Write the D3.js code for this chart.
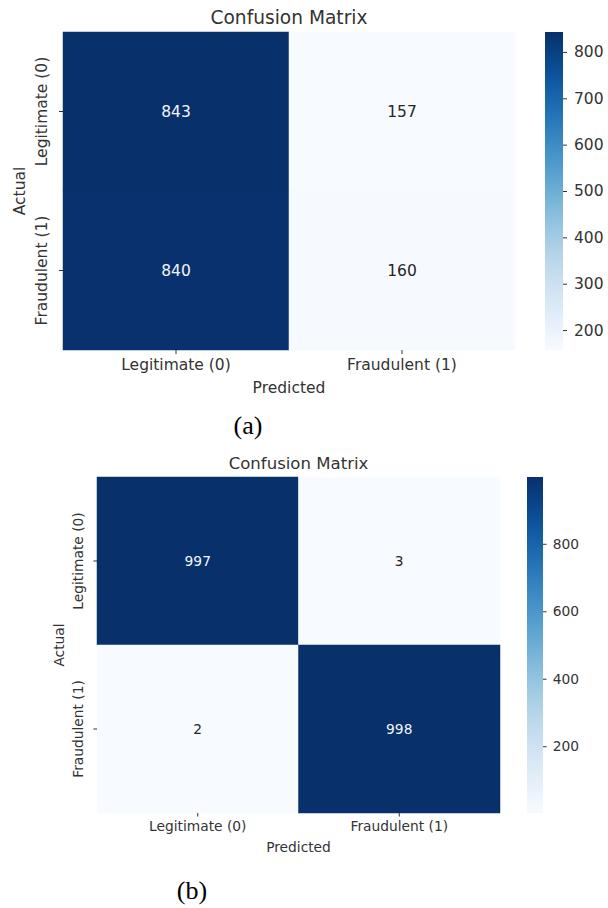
<!DOCTYPE html>
<html>
<head>
<meta charset="utf-8">
<script src="https://cdn.jsdelivr.net/npm/d3@7"></script>
<style>
  body { margin: 0; background: #fff; }
  svg { display: block; }
</style>
</head>
<body>
<svg id="chart" width="608" height="908"></svg>
<script>
// data
var classLabels = ["Legitimate (0)", "Fraudulent (1)"];
var matrixA = [[843, 157], [840, 160]];
var matrixB = [[997, 3], [2, 998]];
var cbTicksA = [200, 300, 400, 500, 600, 700, 800];
var cbTicksB = [200, 400, 600, 800];
var captions = ["(a)", "(b)"];

var svg = d3.select("#chart");
var font = "'DejaVu Sans', sans-serif";
var ink = "#333";

// layout of the two panels (pixels)
var panels = [
  {matrix: matrixA, ticks: cbTicksA, caption: captions[0], s: 1,
   x0: 63, x1: 515, y0: 32, y1: 350, cb0: 545, cb1: 563, capX: 248, capY: 425},
  {matrix: matrixB, ticks: cbTicksB, caption: captions[1], s: 0.89,
   x0: 97, x1: 500, y0: 477, y1: 813, cb0: 527, cb1: 543, capX: 192, capY: 890}
];

panels.forEach(function(p, pi) {
  var g = svg.append("g").attr("class", "panel" + pi);
  var fs = 15.5 * p.s;

  var x = d3.scaleBand().domain(classLabels).range([p.x0, p.x1]);
  var y = d3.scaleBand().domain(classLabels).range([p.y0, p.y1]);

  var flat = [];
  p.matrix.forEach(function(row, r) {
    row.forEach(function(v, c) {
      flat.push({actual: classLabels[r], predicted: classLabels[c], value: v});
    });
  });
  var ext = d3.extent(flat, function(d) { return d.value; });
  var color = d3.scaleSequential(d3.interpolateBlues).domain(ext);

  // cells
  g.selectAll("rect.cell").data(flat).enter().append("rect")
    .attr("class", "cell")
    .attr("x", function(d) { return x(d.predicted); })
    .attr("y", function(d) { return y(d.actual); })
    .attr("width", x.bandwidth())
    .attr("height", y.bandwidth())
    .attr("fill", function(d) { return color(d.value); })
    .attr("stroke", function(d) { return color(d.value); })
    .attr("stroke-width", 0.5);

  // annotations
  g.selectAll("text.annot").data(flat).enter().append("text")
    .attr("class", "annot")
    .attr("x", function(d) { return x(d.predicted) + x.bandwidth() / 2; })
    .attr("y", function(d) { return y(d.actual) + y.bandwidth() / 2; })
    .attr("text-anchor", "middle")
    .attr("dominant-baseline", "central")
    .style("font-family", font)
    .style("font-size", fs + "px")
    .attr("fill", function(d) {
      var t = (d.value - ext[0]) / (ext[1] - ext[0]);
      return t > 0.5 ? "#f2f6fc" : "#262626";
    })
    .text(function(d) { return d.value; });

  // axes
  var xAxis = g.append("g")
    .attr("transform", "translate(0," + p.y1 + ")")
    .call(d3.axisBottom(x).tickSize(4 * p.s).tickPadding(5 * p.s));
  var yAxis = g.append("g")
    .attr("transform", "translate(" + p.x0 + ",0)")
    .call(d3.axisLeft(y).tickSize(4 * p.s).tickPadding(5 * p.s));
  [xAxis, yAxis].forEach(function(a) {
    a.select(".domain").remove();
    a.selectAll("line").attr("stroke", ink);
    a.selectAll("text").style("font-family", font).style("font-size", fs + "px").attr("fill", ink);
  });
  yAxis.selectAll(".tick text")
    .attr("transform", "rotate(-90)")
    .attr("text-anchor", "middle")
    .attr("x", 0)
    .attr("dy", 0)
    .attr("y", -21 * p.s)
    .attr("dominant-baseline", "central");

  // labels
  var cx = (p.x0 + p.x1) / 2, cy = (p.y0 + p.y1) / 2;
  g.append("text")
    .attr("x", cx).attr("y", p.y0 - 15 * p.s)
    .attr("text-anchor", "middle").attr("dominant-baseline", "central")
    .style("font-family", font).style("font-size", (18.6 * p.s) + "px")
    .attr("fill", ink).text("Confusion Matrix");
  g.append("text")
    .attr("x", cx).attr("y", p.y1 + 38 * p.s)
    .attr("text-anchor", "middle").attr("dominant-baseline", "central")
    .style("font-family", font).style("font-size", fs + "px")
    .attr("fill", ink).text("Predicted");
  g.append("text")
    .attr("transform", "translate(" + (p.x0 - 43 * p.s) + "," + cy + ") rotate(-90)")
    .attr("text-anchor", "middle").attr("dominant-baseline", "central")
    .style("font-family", font).style("font-size", fs + "px")
    .attr("fill", ink).text("Actual");

  // colorbar
  var gradId = "grad" + pi;
  var grad = svg.append("defs").append("linearGradient")
    .attr("id", gradId).attr("x1", 0).attr("y1", 1).attr("x2", 0).attr("y2", 0);
  d3.range(0, 1.0001, 0.05).forEach(function(t) {
    grad.append("stop").attr("offset", t).attr("stop-color", d3.interpolateBlues(t));
  });
  g.append("rect")
    .attr("x", p.cb0).attr("y", p.y0)
    .attr("width", p.cb1 - p.cb0).attr("height", p.y1 - p.y0)
    .attr("fill", "url(#" + gradId + ")");
  var cbScale = d3.scaleLinear().domain(ext).range([p.y1, p.y0]);
  var cbAxis = g.append("g")
    .attr("transform", "translate(" + p.cb1 + ",0)")
    .call(d3.axisRight(cbScale).tickValues(p.ticks).tickSize(4 * p.s).tickPadding(7 * p.s));
  cbAxis.select(".domain").remove();
  cbAxis.selectAll("line").attr("stroke", ink);
  cbAxis.selectAll("text").style("font-family", font).style("font-size", fs + "px").attr("fill", ink);

  // caption
  g.append("text")
    .attr("x", p.capX).attr("y", p.capY)
    .attr("text-anchor", "middle").attr("dominant-baseline", "central")
    .style("font-family", "'Liberation Serif', 'Times New Roman', serif")
    .style("font-size", "26px")
    .attr("fill", "#000").text(p.caption);
});
</script>
</body>
</html>
